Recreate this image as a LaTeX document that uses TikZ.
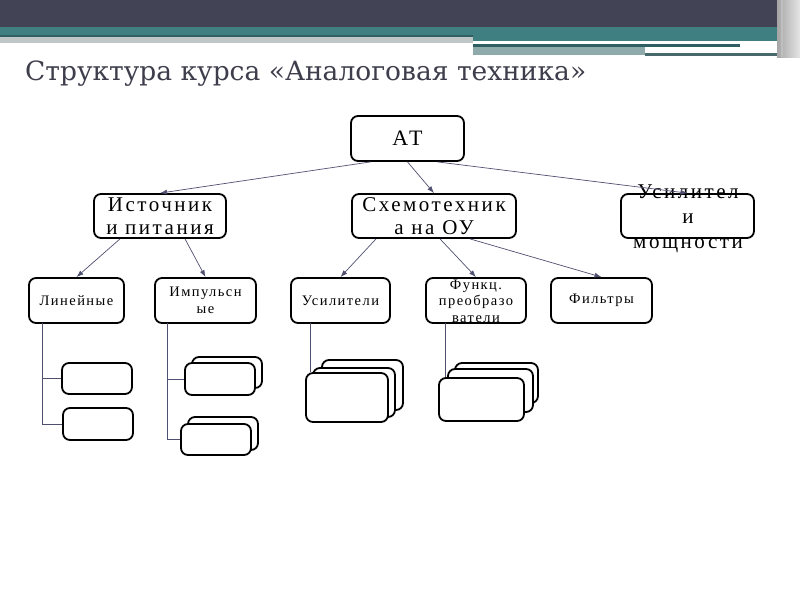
\documentclass[tikz,border=0pt]{standalone}
\usepackage{fontspec}
\setmainfont{DejaVu Serif}
\newfontfamily\boxfont[LetterSpace=12]{Liberation Serif}
\newfontfamily\smallboxfont[LetterSpace=10]{Liberation Serif}
\usetikzlibrary{arrows.meta,calc}
\definecolor{hdark}{HTML}{434356}
\definecolor{hteal}{HTML}{3F7F82}
\definecolor{hteald}{HTML}{2F5F62}
\definecolor{hgrey}{HTML}{BFC6C6}
\definecolor{hgteal}{HTML}{8FAAAB}
\definecolor{titlec}{HTML}{3D3D4B}
\definecolor{linec}{HTML}{4F4F70}
\tikzset{
  box/.style={draw=black, line width=1.8pt, rounded corners=7pt, fill=white, inner sep=0pt},
  bigtxt/.style={font=\boxfont\fontsize{21}{23}\selectfont, align=center},
  smalltxt/.style={font=\smallboxfont\fontsize{14.5}{16.5}\selectfont, align=center},
  conn/.style={draw=linec, line width=0.7pt, -{Latex[length=7pt,width=5pt]}},
  tree/.style={draw=linec, line width=0.7pt},
}
\begin{document}
\begin{tikzpicture}[x=1pt,y=-1pt]
\useasboundingbox (0,0) rectangle (800,600);
% header
\fill[hdark] (0,0) rectangle (777,27);
\fill[hteal] (0,27) rectangle (777,35);
\fill[hteal] (473,27) rectangle (777,41);
\fill[hteald] (0,35) rectangle (473,37);
\fill[hgrey] (0,37) rectangle (473,43);
\fill[white] (473,41) rectangle (777,44);
\fill[hteald] (473,44) rectangle (740,46.5);
\fill[hgteal] (473,46.5) rectangle (645,55);
\fill[hteald!70!gray] (645,53) rectangle (777,56);
\shade[left color=gray!70, right color=gray!20] (777,0) rectangle (800,57);
\fill[gray!50] (781,0) rectangle (783,57);
% title
\node[anchor=base west, inner sep=0pt, text=titlec, font=\fontsize{26.5}{30}\selectfont] (title) at (25,80) {Структура курса «Аналоговая техника»};
% level 0
\node[box, minimum width=113pt, minimum height=45pt, bigtxt, font=\boxfont\fontsize{22}{24}\selectfont] (at) at (407.5,138.5) {АТ};
% level 1
\node[box, minimum width=132pt, minimum height=44pt, bigtxt] (ist) at (160,216) {Источник\\и питания};
\node[box, minimum width=164pt, minimum height=44pt, bigtxt] (schem) at (434,216) {Схемотехник\\а на ОУ};
\node[box, minimum width=133pt, minimum height=44pt] (usil) at (687.5,216) {};
\node[bigtxt, font=\boxfont\fontsize{21}{25}\selectfont, inner sep=0pt] (usilt) at (688,219) {Усилител\\и\\мощности};
% level 2
\node[box, minimum width=95pt, minimum height=45pt, smalltxt] (lin) at (76.5,300.5) {Линейные};
\node[box, minimum width=101pt, minimum height=45pt, smalltxt] (imp) at (205.5,300.5) {Импульсн\\ые};
\node[box, minimum width=99pt, minimum height=45pt, smalltxt] (us) at (340.5,300.5) {Усилители};
\node[box, minimum width=100pt, minimum height=45pt] (fn) at (476,300.5) {};
\node[smalltxt, inner sep=0pt] (fnt) at (476,301) {Функц.\\преобразо\\ватели};
\node[box, minimum width=101pt, minimum height=45pt, smalltxt] (fil) at (601.5,300.5) {Фильтры};
% level 3 boxes
\node[box, minimum width=70pt, minimum height=31pt] (l1) at (97,378.5) {};
\node[box, minimum width=70pt, minimum height=32pt] (l2) at (98,424) {};
\node[box, minimum width=70pt, minimum height=31pt] (i1b) at (227,372.5) {};
\node[box, minimum width=70pt, minimum height=32pt] (i1) at (220,379) {};
\node[box, minimum width=70pt, minimum height=33pt] (i2b) at (223,433.5) {};
\node[box, minimum width=70pt, minimum height=31pt] (i2) at (216,439.5) {};
\node[box, minimum width=81pt, minimum height=50pt] (u3) at (362.5,385) {};
\node[box, minimum width=82pt, minimum height=49pt] (u2) at (354,392.5) {};
\node[box, minimum width=82pt, minimum height=49pt] (u1) at (347,397.5) {};
\node[box, minimum width=83pt, minimum height=40pt] (f3) at (496.5,383) {};
\node[box, minimum width=85pt, minimum height=43pt] (f2) at (490.5,390.5) {};
\node[box, minimum width=85pt, minimum height=43pt] (f1) at (481.5,399.5) {};
% tree lines
\coordinate (lintr) at (42,323);
\coordinate (imptr) at (167,323);
\coordinate (ustr) at (310,323);
\coordinate (fntr) at (445,323);
\draw[tree] (lintr) |- (l1.west);
\draw[tree] (lintr) |- (l2.west);
\draw[tree] (imptr) |- (i1.west);
\draw[tree] (imptr) |- (i2.west);
\draw[tree] (ustr) -- (ustr |- u1.north);
\draw[tree] (fntr) -- (fntr |- f1.north);
% arrows
\draw[conn] ($(at.south)+(-37,0)$) -- (ist.north);
\draw[conn] (at.south) -- (schem.north);
\draw[conn] ($(at.south)+(30,0)$) -- (usil.north);
\draw[conn] ($(ist.south)+(-40,0)$) -- (lin.north);
\draw[conn] ($(ist.south)+(25,0)$) -- (imp.north);
\draw[conn] ($(schem.south)+(-58,0)$) -- (us.north);
\draw[conn] ($(schem.south)+(6,0)$) -- (fn.north);
\draw[conn] ($(schem.south)+(36,0)$) -- (fil.north);
\end{tikzpicture}
\end{document}
